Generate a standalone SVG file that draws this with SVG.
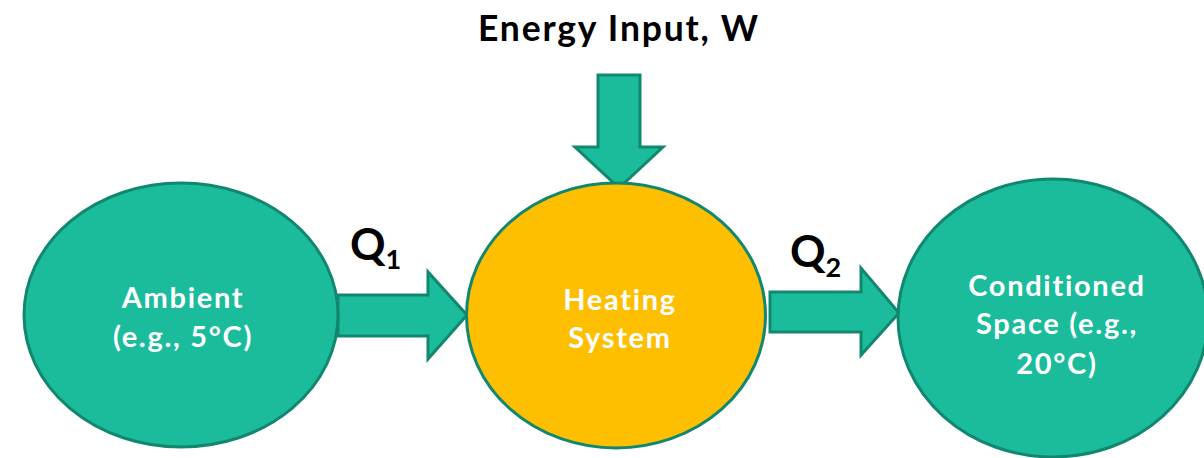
<svg xmlns="http://www.w3.org/2000/svg" width="1204" height="458" viewBox="0 0 1204 458">
<style>
.node{stroke:#12876f;stroke-width:3}
.teal{fill:#1abc9c}
.yellow{fill:#fdbf00}
.arrow{fill:#1abc9c;stroke:#12876f;stroke-width:3;stroke-linejoin:miter}
.nt{font-family:Lato,"Open Sans",sans-serif;font-weight:bold;font-size:29px;letter-spacing:1.7px;fill:#ffffff;text-anchor:middle}
.lbl{font-family:Lato,"Open Sans",sans-serif;font-weight:bold;fill:#000000}
</style>
<rect width="1204" height="458" fill="#ffffff"/>
<g id="connectors">
<polygon class="arrow" points="338,295 428,295 428,272 467,315 428,359 428,336 338,336"/>
<polygon class="arrow" points="770,292 861,292 861,268 899,313 861,355 861,332 770,332"/>
<polygon class="arrow" points="598,75 640,75 640,147 663,147 619,188 575,147 598,147"/>
</g>
<g id="ambient">
<ellipse class="node teal" cx="181" cy="315" rx="157" ry="132"/>
<text class="nt" x="183" y="308">Ambient</text>
<text class="nt" x="183" y="347">(e.g., 5°C)</text>
</g>
<g id="heating">
<ellipse class="node yellow" cx="616" cy="315.5" rx="149.5" ry="132.5"/>
<text class="nt" x="620" y="310">Heating</text>
<text class="nt" x="620" y="348">System</text>
</g>
<g id="conditioned">
<ellipse class="node teal" cx="1053" cy="318" rx="155" ry="139"/>
<text class="nt" x="1057" y="296">Conditioned</text>
<text class="nt" x="1057" y="334">Space (e.g.,</text>
<text class="nt" x="1057" y="374">20°C)</text>
</g>
<g id="labels">
<text class="lbl" x="619" y="41" font-size="35.5" letter-spacing="1.8" text-anchor="middle">Energy Input, W</text>
<text class="lbl" x="350" y="260" font-size="44">Q<tspan font-size="27" dy="9">1</tspan></text>
<text class="lbl" x="790" y="267" font-size="44">Q<tspan font-size="27" dy="10">2</tspan></text>
</g>
</svg>
